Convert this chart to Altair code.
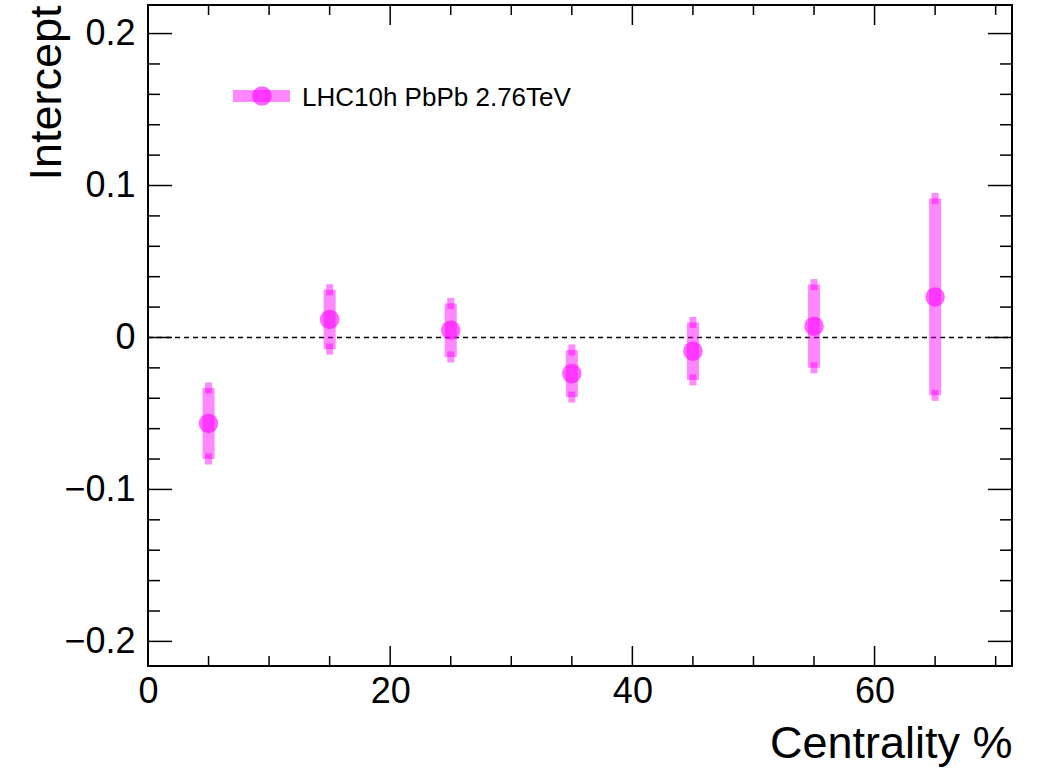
import altair as alt
import pandas as pd

# ---- data ----
centrality = [5, 15, 25, 35, 45, 55, 65]
intercept = [-0.0566, 0.0119, 0.0048, -0.0237, -0.0090, 0.0074, 0.0267]
error = [0.0234, 0.0195, 0.0176, 0.0155, 0.0189, 0.0274, 0.0648]

x_major = [0, 20, 40, 60]
x_minor = [5, 10, 15, 25, 30, 35, 45, 50, 55, 65, 70]
y_major = [-0.2, -0.1, 0.0, 0.1, 0.2]
y_minor = [-0.18, -0.16, -0.14, -0.12, -0.08, -0.06, -0.04, -0.02,
           0.02, 0.04, 0.06, 0.08, 0.12, 0.14, 0.16, 0.18]
legend_label = ["LHC10h PbPb 2.76TeV"]

W, H = 864, 661
MAG = "#ff00ff"
FONT = "Liberation Sans"

df = pd.DataFrame({"c": centrality, "v": intercept, "e": error})
df["lo"] = df["v"] - df["e"]
df["hi"] = df["v"] + df["e"]

xs = alt.Scale(domain=[0, 71.35], nice=False, zero=False)
ys = alt.Scale(domain=[-0.2162, 0.2188], nice=False, zero=False)

xaxis = alt.Axis(values=x_major, ticks=False, tickSize=0, domain=False, grid=False,
                 labelFontSize=36, labelFont=FONT, labelColor="black", labelPadding=8,
                 labelFlush=False, labelOverlap=False,
                 format="d", title="Centrality %", titleFont=FONT, titleFontSize=45,
                 titleFontWeight="normal", titleColor="black", titleX=W, titleY=91,
                 titleAlign="right", titleBaseline="alphabetic")
yaxis = alt.Axis(values=y_major, ticks=False, tickSize=0, domain=False, grid=False,
                 labelFontSize=36, labelFont=FONT, labelColor="black", labelPadding=13,
                 labelFlush=False, labelOverlap=False,
                 labelExpr="datum.value == 0 ? '0' : replace(format(datum.value, '.1f'), '-', '\u2212')",
                 title="Intercept", titleFont=FONT, titleFontSize=45, titleFontWeight="normal",
                 titleColor="black", titleX=-88, titleY=0, titleAlign="right", titleAngle=270,
                 titleBaseline="alphabetic")


def X(f):
    return alt.X(f, scale=xs, axis=xaxis)


def Y(f):
    return alt.Y(f, scale=ys, axis=yaxis)


base = alt.Chart(df)

zero_line = alt.Chart(pd.DataFrame({"z": [0.0]})).mark_rule(
    color="black", strokeWidth=1.5, strokeDash=[5, 4]
).encode(y=Y("z:Q"), x=alt.value(0), x2=alt.value(W))

bars = base.mark_rule(color=MAG, opacity=0.47, strokeWidth=12, strokeCap="butt").encode(
    x=X("c:Q"), y=Y("lo:Q"), y2="hi:Q")

cap_lo = base.mark_tick(color=MAG, opacity=0.47, orient="vertical", size=11, thickness=7).encode(
    x=X("c:Q"), y=Y("lo:Q"))
cap_hi = base.mark_tick(color=MAG, opacity=0.47, orient="vertical", size=11, thickness=7).encode(
    x=X("c:Q"), y=Y("hi:Q"))

points = base.mark_circle(color=MAG, opacity=0.6, size=380).encode(
    x=X("c:Q"), y=Y("v:Q"))

# inward ticks on all four sides
xmaj = pd.DataFrame({"t": x_major})
xmin = pd.DataFrame({"t": x_minor})
ymaj = pd.DataFrame({"t": y_major})
ymin = pd.DataFrame({"t": y_minor})


def xticks(d, y0, y1):
    return alt.Chart(d).mark_rule(color="black", strokeWidth=1.5).encode(
        x=X("t:Q"), y=alt.value(y0), y2=alt.value(y1))


def yticks(d, x0, x1):
    return alt.Chart(d).mark_rule(color="black", strokeWidth=1.5).encode(
        y=Y("t:Q"), x=alt.value(x0), x2=alt.value(x1))


ticks = [
    xticks(xmaj, H, H - 20), xticks(xmin, H, H - 10),
    xticks(xmaj, 0, 20), xticks(xmin, 0, 10),
    yticks(ymaj, 0, 24), yticks(ymin, 0, 12),
    yticks(ymaj, W - 24, W), yticks(ymin, W - 12, W),
]

leg = alt.Chart(pd.DataFrame({"label": legend_label}))
leg_bar = leg.mark_rule(color=MAG, opacity=0.47, strokeWidth=12, strokeCap="butt").encode(
    x=alt.value(85), x2=alt.value(142), y=alt.value(91))
leg_pt = leg.mark_circle(color=MAG, opacity=0.6, size=380).encode(
    x=alt.value(114), y=alt.value(91))
leg_txt = leg.mark_text(align="left", baseline="alphabetic", fontSize=26, font=FONT,
                        color="black").encode(x=alt.value(154), y=alt.value(101), text="label:N")

chart = alt.layer(zero_line, bars, cap_lo, cap_hi, points, *ticks, leg_bar, leg_pt, leg_txt).properties(
    width=W, height=H,
    background="white",
    autosize=alt.AutoSizeParams(type="none"),
    padding={"left": 148, "top": 5, "right": 31, "bottom": 102},
).configure_view(stroke="black", strokeWidth=2)

chart.save("out.html", embed_options={"renderer": "svg", "actions": False})
